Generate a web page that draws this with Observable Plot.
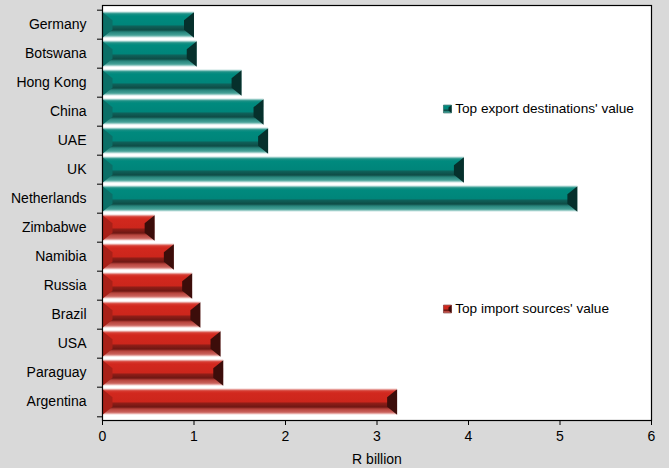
<!DOCTYPE html>
<html>
<head>
<meta charset="utf-8">
<script src="https://cdn.jsdelivr.net/npm/d3@7"></script>
<script src="https://cdn.jsdelivr.net/npm/@observablehq/plot@0.6"></script>
<style>
  html, body { margin: 0; padding: 0; background: #d9d9d9; }
  #chart { width: 669px; height: 468px; }
</style>
</head>
<body>
<div id="chart"></div>
<script>
// ---- data ----
const exportCountries = ["Germany", "Botswana", "Hong Kong", "China", "UAE", "UK", "Netherlands"];
const exportValues = [1.0, 1.03, 1.52, 1.76, 1.81, 3.95, 5.19];
const importCountries = ["Zimbabwe", "Namibia", "Russia", "Brazil", "USA", "Paraguay", "Argentina"];
const importValues = [0.57, 0.78, 0.98, 1.07, 1.29, 1.32, 3.22];
const xTicks = [0, 1, 2, 3, 4, 5, 6];
const exportLabel = "Top export destinations' value";
const importLabel = "Top import sources' value";
const axisTitle = "R billion";

const exportsData = exportCountries.map((c, i) => ({country: c, value: exportValues[i]}));
const importsData = importCountries.map((c, i) => ({country: c, value: importValues[i]}));
const categories = [...exportCountries, ...importCountries];

// ---- layout ----
const W = 669, H = 468;
const mTop = 5, mBottom = 48, mLeft = 102, mRight = 18;
const padInner = 0.14;
const step = (H - mTop - mBottom) / categories.length;
const bh = step * (1 - padInner);
const FS = 14;

// bevel shapes (relative to bar end / start)
const endFace = {draw(ctx) {
  ctx.moveTo(0, -bh / 2); ctx.lineTo(0, bh / 2);
  ctx.lineTo(-10, bh / 2 - 8); ctx.lineTo(-10, -bh / 2 + 8); ctx.closePath();
}};
const startFace = {draw(ctx) {
  ctx.moveTo(0, -bh / 2); ctx.lineTo(10, -bh / 2 + 8);
  ctx.lineTo(10, bh / 2 - 8); ctx.lineTo(0, bh / 2); ctx.closePath();
}};
const swatch = {draw(ctx) {
  ctx.moveTo(-4, -4); ctx.lineTo(4, -4); ctx.lineTo(4, 4); ctx.lineTo(-4, 4); ctx.closePath();
}};
const swatchEnd = {draw(ctx) {
  ctx.moveTo(4, -4); ctx.lineTo(4, 4); ctx.lineTo(1, 1.5); ctx.lineTo(1, -1.5); ctx.closePath();
}};

const font = "'Liberation Sans', Arial, sans-serif";

const chart = Plot.plot({
  width: W,
  height: H,
  marginTop: mTop,
  marginBottom: mBottom,
  marginLeft: mLeft,
  marginRight: mRight,
  style: {fontFamily: font, fontSize: FS + "px", background: "transparent", color: "#000", overflow: "visible"},
  x: {domain: [0, 6]},
  y: {domain: categories, paddingInner: padInner, paddingOuter: padInner / 2, label: null},
  marks: [
    Plot.frame({fill: "white", stroke: "none"}),
    // export bars
    Plot.barX(exportsData, {x: "value", y: "country", fill: "url(#gTeal)", stroke: "#b9ddd9", strokeWidth: 0.8}),
    Plot.dot(exportsData, {x: 0, y: "country", symbol: startFace, fill: "#0b6f67", stroke: "none"}),
    Plot.dot(exportsData, {x: "value", y: "country", symbol: endFace, fill: "#06302c", stroke: "none"}),
    // import bars
    Plot.barX(importsData, {x: "value", y: "country", fill: "url(#gRed)", stroke: "#efc3c0", strokeWidth: 0.8}),
    Plot.dot(importsData, {x: 0, y: "country", symbol: startFace, fill: "#a92018", stroke: "none"}),
    Plot.dot(importsData, {x: "value", y: "country", symbol: endFace, fill: "#3c0d0a", stroke: "none"}),
    // legend
    Plot.dot([exportLabel], {x: 3.77, y: () => "China", dy: -3, symbol: swatch, fill: "url(#gTeal)", stroke: "#0a4a44", strokeWidth: 0.5}),
    Plot.dot([exportLabel], {x: 3.77, y: () => "China", dy: -3, symbol: swatchEnd, fill: "#06302c"}),
    Plot.text([exportLabel], {x: 3.855, y: () => "China", dy: -3, text: d => d, textAnchor: "start", fontSize: 13.6}),
    Plot.dot([importLabel], {x: 3.77, y: () => "Brazil", dy: -6, symbol: swatch, fill: "url(#gRed)", stroke: "#5a1310", strokeWidth: 0.5}),
    Plot.dot([importLabel], {x: 3.77, y: () => "Brazil", dy: -6, symbol: swatchEnd, fill: "#3c0d0a"}),
    Plot.text([importLabel], {x: 3.855, y: () => "Brazil", dy: -6, text: d => d, textAnchor: "start", fontSize: 13.6}),
    // axes
    Plot.axisY({tickSize: 0, tickPadding: 16, fontSize: FS, label: null}),
    Plot.axisY({tickSize: 5, text: null, dy: -step / 2, stroke: "#000", label: null}),
    Plot.axisY({ticks: [categories[categories.length - 1]], tickSize: 5, text: null, dy: step / 2, stroke: "#000", label: null}),
    Plot.axisX({ticks: xTicks, tickSize: 5, tickPadding: 6, tickFormat: d => String(d), fontSize: FS,
      label: axisTitle, labelAnchor: "center", labelArrow: "none", labelOffset: 43}),
    Plot.frame({stroke: "#000", strokeWidth: 1.2})
  ]
});

// gradients
const svg = d3.select(chart.tagName.toLowerCase() === "svg" ? chart : chart.querySelector("svg"));
const defs = svg.insert("defs", ":first-child");
function grad(id, stops) {
  const g = defs.append("linearGradient").attr("id", id).attr("x1", 0).attr("y1", 0).attr("x2", 0).attr("y2", 1);
  stops.forEach(([o, c]) => g.append("stop").attr("offset", o).attr("stop-color", c));
}
grad("gTeal", [[0, "#8fc8c1"], [0.08, "#1a9085"], [0.16, "#008a7e"], [0.5, "#00857a"], [0.58, "#0f5f58"], [0.72, "#0e4c46"], [0.8, "#27847b"], [0.92, "#44a096"], [1, "#9fd0ca"]]);
grad("gRed", [[0, "#e59a95"], [0.08, "#d63a30"], [0.16, "#d2281e"], [0.5, "#cc261c"], [0.58, "#8c1d17"], [0.72, "#6e1713"], [0.8, "#b6433c"], [0.92, "#c9605a"], [1, "#e8aaa6"]]);

document.getElementById("chart").appendChild(chart);
</script>
</body>
</html>
